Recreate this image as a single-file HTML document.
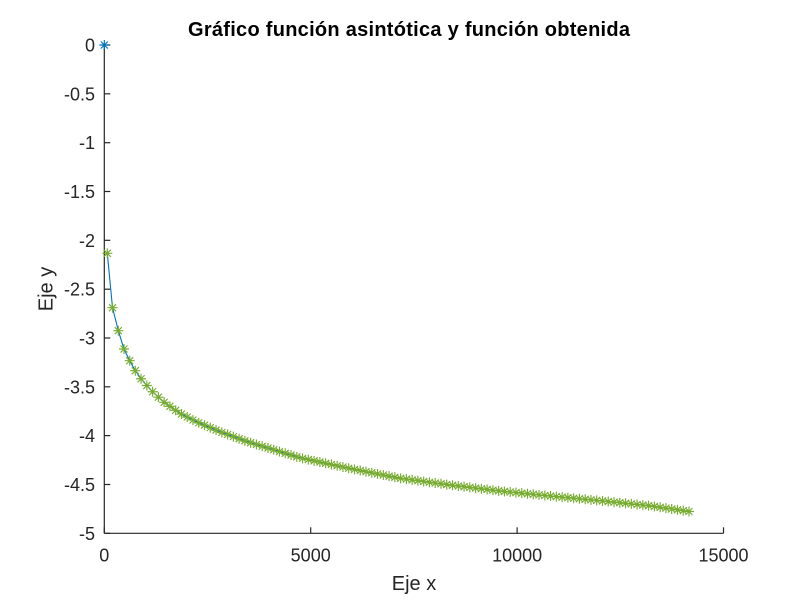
<!DOCTYPE html>
<html>
<head>
<meta charset="utf-8">
<style>
  html, body { margin:0; padding:0; background:#fff; }
  svg { display:block; }
  text { font-family: "Liberation Sans", Arial, sans-serif; }
</style>
</head>
<body>
<svg id="s" width="800" height="600" viewBox="0 0 800 600" xmlns="http://www.w3.org/2000/svg">
  <rect width="800" height="600" fill="#ffffff"/>
  <!-- title -->
  <text x="409" y="36" font-size="20" font-weight="bold" fill="#000" text-anchor="middle" textLength="442">Gráfico función asintótica y función obtenida</text>

  <!-- axes -->
  <g stroke="#262626" stroke-width="1.2" fill="none">
    <line x1="104.3" y1="45" x2="104.3" y2="533.3"/>
    <line x1="104.3" y1="533.3" x2="723.5" y2="533.3"/>
    <!-- y ticks -->
    <line x1="104.3" y1="45" x2="110.3" y2="45"/>
    <line x1="104.3" y1="93.8" x2="110.3" y2="93.8"/>
    <line x1="104.3" y1="142.7" x2="110.3" y2="142.7"/>
    <line x1="104.3" y1="191.5" x2="110.3" y2="191.5"/>
    <line x1="104.3" y1="240.3" x2="110.3" y2="240.3"/>
    <line x1="104.3" y1="289.2" x2="110.3" y2="289.2"/>
    <line x1="104.3" y1="338" x2="110.3" y2="338"/>
    <line x1="104.3" y1="386.8" x2="110.3" y2="386.8"/>
    <line x1="104.3" y1="435.6" x2="110.3" y2="435.6"/>
    <line x1="104.3" y1="484.5" x2="110.3" y2="484.5"/>
    <line x1="104.3" y1="533.3" x2="110.3" y2="533.3"/>
    <!-- x ticks -->
    <line x1="104.3" y1="533.3" x2="104.3" y2="527.3"/>
    <line x1="310.7" y1="533.3" x2="310.7" y2="527.3"/>
    <line x1="517.1" y1="533.3" x2="517.1" y2="527.3"/>
    <line x1="723.5" y1="533.3" x2="723.5" y2="527.3"/>
  </g>

  <!-- y tick labels -->
  <g font-size="18" fill="#262626" text-anchor="end">
    <text x="95" y="51.5">0</text>
    <text x="95" y="100.3">-0.5</text>
    <text x="95" y="149.2">-1</text>
    <text x="95" y="198">-1.5</text>
    <text x="95" y="246.8">-2</text>
    <text x="95" y="295.7">-2.5</text>
    <text x="95" y="344.5">-3</text>
    <text x="95" y="393.3">-3.5</text>
    <text x="95" y="442.1">-4</text>
    <text x="95" y="491">-4.5</text>
    <text x="95" y="539.8">-5</text>
  </g>
  <!-- x tick labels -->
  <g font-size="18" fill="#262626" text-anchor="middle">
    <text x="104.3" y="561.5">0</text>
    <text x="310.7" y="561.5">5000</text>
    <text x="517.1" y="561.5">10000</text>
    <text x="723.5" y="561.5">15000</text>
  </g>

  <!-- axis labels -->
  <text x="414" y="590" font-size="20" fill="#262626" text-anchor="middle">Eje x</text>
  <text x="0" y="0" font-size="20" fill="#262626" text-anchor="middle" transform="translate(52.5,289) rotate(-90)">Eje y</text>

  <g id="plot"></g>
</svg>
<script>
(function(){
  var NS = "http://www.w3.org/2000/svg";
  var g = document.getElementById("plot");
  var T = [
    [107.3,253.3],[112.5,307.7],[118.3,330.7],[124,349],[129.7,360.7],[135.3,370.7],
    [140,377.5],[147.7,386.5],[153.3,392.5],[163.3,401.7],[180,413.3],[196.7,421.9],
    [220,431.7],[246.7,441.5],[280,451.7],[300,457.8],[350,468.5],[400,478.3],
    [450,485],[500,491],[550,496],[600,500.7],[650,505.8],[689,511.5]
  ];
  function f(x){
    for (var i=0;i<T.length-1;i++){
      if (x<=T[i+1][0]){
        var t=(x-T[i][0])/(T[i+1][0]-T[i][0]);
        return T[i][1]+t*(T[i+1][1]-T[i][1]);
      }
    }
    return T[T.length-1][1];
  }
  var pts=[];
  var first=[107.3,112.5,118.3,124,129.7,135.3];
  for (var i=0;i<first.length;i++) pts.push([first[i], f(first[i])]);
  var x, step=(689-135.3)/96;
  for (var k=1;k<=96;k++){ x=135.3+k*step; pts.push([x,f(x)]); }

  var pl=document.createElementNS(NS,"polyline");
  pl.setAttribute("points", pts.map(function(p){return p[0].toFixed(2)+","+p[1].toFixed(2);}).join(" "));
  pl.setAttribute("fill","none");
  pl.setAttribute("stroke","#0072BD");
  pl.setAttribute("stroke-width","1.1");
  g.appendChild(pl);

  function star(cx,cy,col){
    var r=5, d=3.5;
    var p=document.createElementNS(NS,"path");
    p.setAttribute("d",
      "M"+(cx-r)+","+cy+"L"+(cx+r)+","+cy+
      "M"+cx+","+(cy-r)+"L"+cx+","+(cy+r)+
      "M"+(cx-d)+","+(cy-d)+"L"+(cx+d)+","+(cy+d)+
      "M"+(cx-d)+","+(cy+d)+"L"+(cx+d)+","+(cy-d));
    p.setAttribute("stroke",col);
    p.setAttribute("stroke-width","1.15");
    p.setAttribute("fill","none");
    g.appendChild(p);
  }
  for (var j=0;j<pts.length;j++) star(pts[j][0],pts[j][1],"#77AC30");
  star(104.3,45,"#0072BD");
})();
</script>
</body>
</html>
